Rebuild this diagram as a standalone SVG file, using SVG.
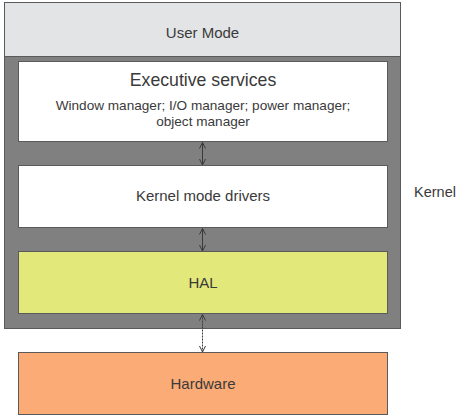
<svg xmlns="http://www.w3.org/2000/svg" width="465" height="420" viewBox="0 0 465 420">
<defs>
<style>
.t{font-family:"Liberation Sans",Arial,sans-serif;fill:#3a3a3a;text-anchor:middle}
.box{stroke:#5a5a5a;stroke-width:1}
.conn{stroke:#3a3a3a;stroke-width:1;fill:none}
</style>
<marker id="ah" viewBox="0 0 8 8" refX="7" refY="4" markerWidth="8" markerHeight="8" orient="auto-start-reverse" markerUnits="userSpaceOnUse">
<path d="M1,1 L7,4 L1,7" fill="none" stroke="#3a3a3a" stroke-width="1"/>
</marker>
</defs>
<rect width="465" height="420" fill="#ffffff"/>
<g id="user-mode">
<rect class="box" x="4.5" y="2.5" width="396" height="54" fill="#e3e4e6" stroke="#9a9a9a"/>
<text class="t" x="202.5" y="38" font-size="15">User Mode</text>
</g>
<g id="kernel">
<rect class="box" x="4.5" y="56.5" width="396" height="272" fill="#808080"/>
<text class="t" x="435" y="197" font-size="14.5">Kernel</text>
</g>
<g id="executive-services">
<rect class="box" x="18.5" y="61.5" width="369" height="80" fill="#ffffff"/>
<text class="t" x="203" y="86" font-size="17.7">Executive services</text>
<text class="t" x="203" y="110" font-size="13.6">Window manager; I/O manager; power manager;</text>
<text class="t" x="203" y="126" font-size="13.6">object manager</text>
</g>
<g id="kernel-mode-drivers">
<rect class="box" x="18.5" y="165.5" width="369" height="62" fill="#ffffff"/>
<text class="t" x="203" y="201" font-size="15">Kernel mode drivers</text>
</g>
<g id="hal">
<rect class="box" x="18.5" y="251.5" width="369" height="62" fill="#e3e87a"/>
<text class="t" x="203" y="288" font-size="15">HAL</text>
</g>
<g id="hardware">
<rect class="box" x="18.5" y="352.5" width="369" height="62" fill="#fbab76" stroke="#7a7a7a"/>
<text class="t" x="203" y="389" font-size="15">Hardware</text>
</g>
<g id="connectors">
<line class="conn" x1="202.5" y1="142.5" x2="202.5" y2="165" marker-start="url(#ah)" marker-end="url(#ah)"/>
<line class="conn" x1="202.5" y1="228.5" x2="202.5" y2="251" marker-start="url(#ah)" marker-end="url(#ah)"/>
<line class="conn" x1="202.5" y1="314.5" x2="202.5" y2="352" stroke-dasharray="2,1" marker-start="url(#ah)" marker-end="url(#ah)"/>
</g>
</svg>
